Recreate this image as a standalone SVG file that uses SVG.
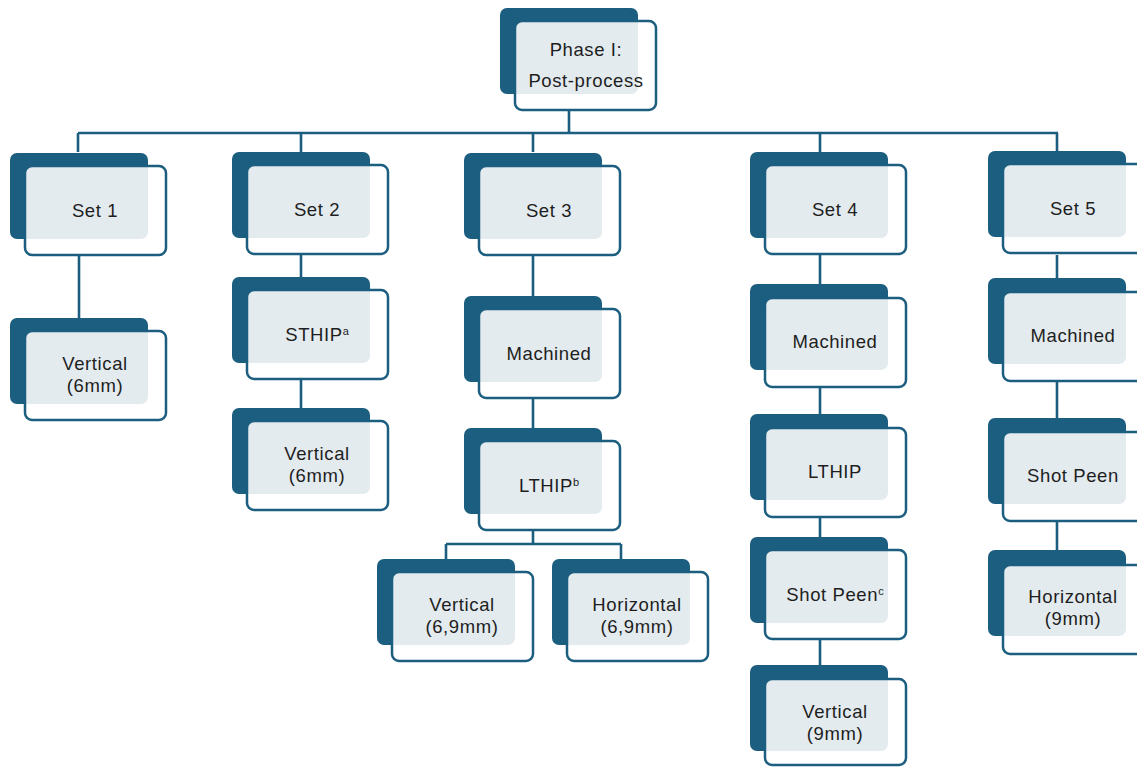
<svg xmlns="http://www.w3.org/2000/svg" width="1137" height="767" viewBox="0 0 1137 767">
  <style>
    .back { fill: #1b5e7f; }
    .front { fill: #ffffff; fill-opacity: 0.88; stroke: #1b5e7f; stroke-width: 2.5; }
    .lbl { font-family: "Liberation Sans", Arial, sans-serif; font-size: 18.5px; letter-spacing: 0.6px; fill: #1e1e1e; text-anchor: middle; }
    .sup { font-size: 11px; letter-spacing: 0; }
    .wire { fill: none; stroke: #1b5e7f; stroke-width: 2.6; }
  </style>
  <rect width="1137" height="767" fill="#ffffff"/>

  <!-- connectors -->
  <g id="connectors" class="wire">
    <path d="M569 110 V133 M78 133 H1058 M78 133 V152 M301 133 V152 M533 133 V152 M820 133 V152 M1057 133 V152"/>
    <path d="M79 255 V318"/>
    <path d="M301 254 V277 M301 380 V408"/>
    <path d="M533 255 V296 M533 399 V428 M533 530 V544 M446 544 H621 M446 544 V559 M621 544 V559"/>
    <path d="M820 254 V284 M820 387 V414 M820 517 V537 M820 638 V665"/>
    <path d="M1057 255 V278 M1057 381 V418 M1057 521 V550"/>
  </g>

  <!-- nodes: dark back card, translucent outlined front card -->
  <g id="phase1">
    <rect class="back" x="500" y="8" width="138" height="86" rx="7"/>
    <rect class="front" x="515" y="21" width="141" height="89" rx="7"/>
    <text class="lbl" x="586" y="56">Phase I:</text>
    <text class="lbl" x="586" y="87">Post-process</text>
  </g>

  <g id="set1">
    <rect class="back" x="10" y="153" width="138" height="86" rx="7"/>
    <rect class="front" x="25" y="166" width="141" height="89" rx="7"/>
    <text class="lbl" x="95" y="217">Set 1</text>
  </g>
  <g id="set1-vertical">
    <rect class="back" x="10" y="318" width="138" height="86" rx="7"/>
    <rect class="front" x="25" y="331" width="141" height="89" rx="7"/>
    <text class="lbl" x="95" y="370">Vertical</text>
    <text class="lbl" x="95" y="392">(6mm)</text>
  </g>

  <g id="set2">
    <rect class="back" x="232" y="152" width="138" height="86" rx="7"/>
    <rect class="front" x="247" y="165" width="141" height="89" rx="7"/>
    <text class="lbl" x="317" y="216">Set 2</text>
  </g>
  <g id="set2-sthip">
    <rect class="back" x="232" y="277" width="138" height="86" rx="7"/>
    <rect class="front" x="247" y="290" width="141" height="89" rx="7"/>
    <text class="lbl" x="317" y="341">STHIP<tspan class="sup" dy="-6">a</tspan></text>
  </g>
  <g id="set2-vertical">
    <rect class="back" x="232" y="408" width="138" height="86" rx="7"/>
    <rect class="front" x="247" y="421" width="141" height="89" rx="7"/>
    <text class="lbl" x="317" y="460">Vertical</text>
    <text class="lbl" x="317" y="482">(6mm)</text>
  </g>

  <g id="set3">
    <rect class="back" x="464" y="153" width="138" height="86" rx="7"/>
    <rect class="front" x="479" y="166" width="141" height="89" rx="7"/>
    <text class="lbl" x="549" y="217">Set 3</text>
  </g>
  <g id="set3-machined">
    <rect class="back" x="464" y="296" width="138" height="86" rx="7"/>
    <rect class="front" x="479" y="309" width="141" height="89" rx="7"/>
    <text class="lbl" x="549" y="360">Machined</text>
  </g>
  <g id="set3-lthip">
    <rect class="back" x="464" y="428" width="138" height="86" rx="7"/>
    <rect class="front" x="479" y="441" width="141" height="89" rx="7"/>
    <text class="lbl" x="549" y="492">LTHIP<tspan class="sup" dy="-6">b</tspan></text>
  </g>
  <g id="set3-vertical">
    <rect class="back" x="377" y="559" width="138" height="86" rx="7"/>
    <rect class="front" x="392" y="572" width="141" height="89" rx="7"/>
    <text class="lbl" x="462" y="611">Vertical</text>
    <text class="lbl" x="462" y="633">(6,9mm)</text>
  </g>
  <g id="set3-horizontal">
    <rect class="back" x="552" y="559" width="138" height="86" rx="7"/>
    <rect class="front" x="567" y="572" width="141" height="89" rx="7"/>
    <text class="lbl" x="637" y="611">Horizontal</text>
    <text class="lbl" x="637" y="633">(6,9mm)</text>
  </g>

  <g id="set4">
    <rect class="back" x="750" y="152" width="138" height="86" rx="7"/>
    <rect class="front" x="765" y="165" width="141" height="89" rx="7"/>
    <text class="lbl" x="835" y="216">Set 4</text>
  </g>
  <g id="set4-machined">
    <rect class="back" x="750" y="284" width="138" height="86" rx="7"/>
    <rect class="front" x="765" y="298" width="141" height="89" rx="7"/>
    <text class="lbl" x="835" y="348">Machined</text>
  </g>
  <g id="set4-lthip">
    <rect class="back" x="750" y="414" width="138" height="86" rx="7"/>
    <rect class="front" x="765" y="428" width="141" height="89" rx="7"/>
    <text class="lbl" x="835" y="478">LTHIP</text>
  </g>
  <g id="set4-shotpeen">
    <rect class="back" x="750" y="537" width="138" height="86" rx="7"/>
    <rect class="front" x="765" y="550" width="141" height="89" rx="7"/>
    <text class="lbl" x="835" y="601">Shot Peen<tspan class="sup" dy="-6">c</tspan></text>
  </g>
  <g id="set4-vertical">
    <rect class="back" x="750" y="665" width="138" height="86" rx="7"/>
    <rect class="front" x="765" y="679" width="141" height="86" rx="7"/>
    <text class="lbl" x="835" y="718">Vertical</text>
    <text class="lbl" x="835" y="740">(9mm)</text>
  </g>

  <g id="set5">
    <rect class="back" x="988" y="151" width="138" height="86" rx="7"/>
    <rect class="front" x="1003" y="164" width="141" height="89" rx="7"/>
    <text class="lbl" x="1073" y="215">Set 5</text>
  </g>
  <g id="set5-machined">
    <rect class="back" x="988" y="278" width="138" height="86" rx="7"/>
    <rect class="front" x="1003" y="292" width="141" height="89" rx="7"/>
    <text class="lbl" x="1073" y="342">Machined</text>
  </g>
  <g id="set5-shotpeen">
    <rect class="back" x="988" y="418" width="138" height="86" rx="7"/>
    <rect class="front" x="1003" y="432" width="141" height="89" rx="7"/>
    <text class="lbl" x="1073" y="482">Shot Peen</text>
  </g>
  <g id="set5-horizontal">
    <rect class="back" x="988" y="550" width="138" height="86" rx="7"/>
    <rect class="front" x="1003" y="565" width="141" height="89" rx="7"/>
    <text class="lbl" x="1073" y="603">Horizontal</text>
    <text class="lbl" x="1073" y="625">(9mm)</text>
  </g>
</svg>
